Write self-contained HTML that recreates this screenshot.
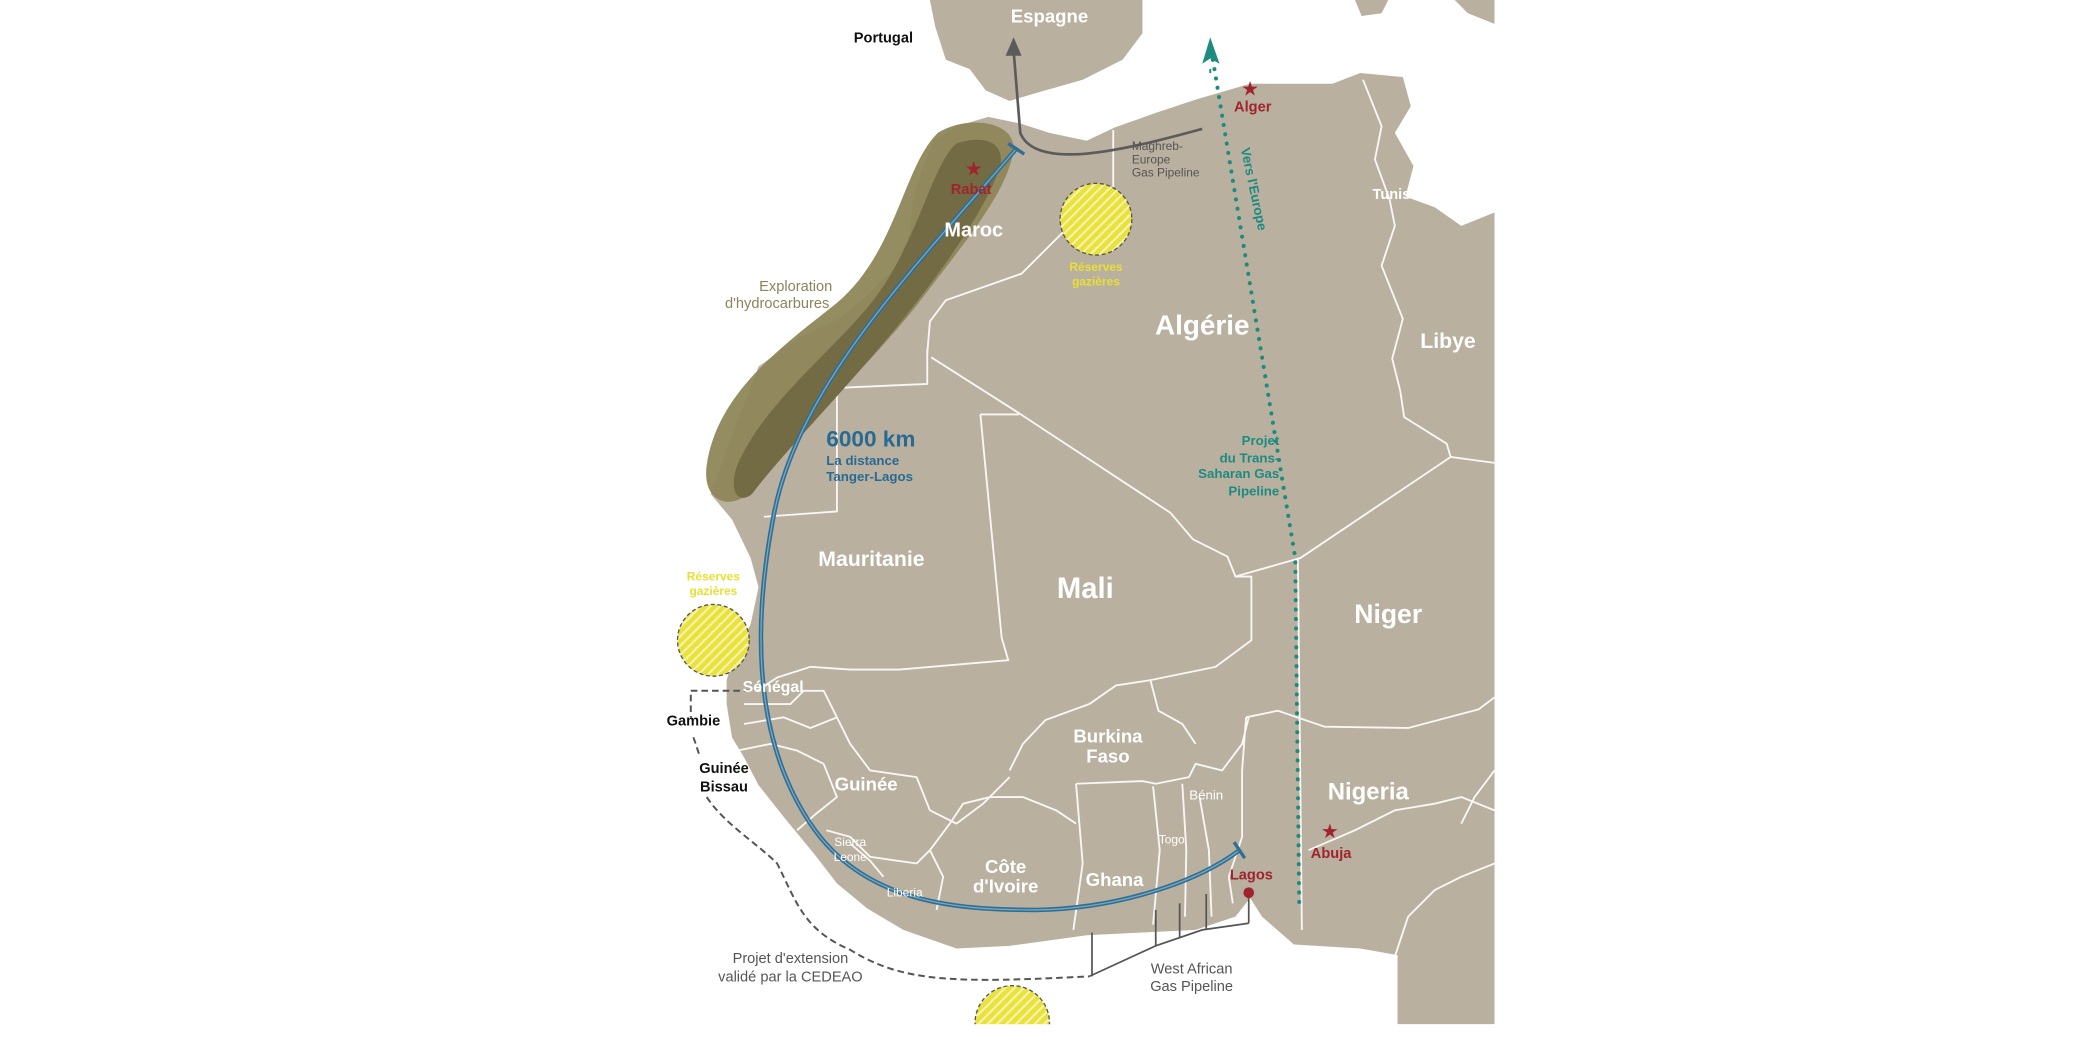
<!DOCTYPE html>
<html><head><meta charset="utf-8"><style>
html,body{margin:0;padding:0;background:#fff;}
svg{display:block;}
text{font-family:"Liberation Sans",Arial,sans-serif;}
</style></head><body>
<svg width="2083" height="1042" viewBox="0 0 1568 784.4" preserveAspectRatio="none" xmlns="http://www.w3.org/2000/svg">
<defs>
<pattern id="hatch" width="5" height="5" patternUnits="userSpaceOnUse" patternTransform="rotate(45)">
<rect width="5" height="5" fill="#e9e23a"/><rect width="1.6" height="5" fill="#f6f2b0"/>
</pattern>
<clipPath id="mapclip"><rect x="0" y="0" width="1125" height="771"/></clipPath>
</defs>
<rect width="1568" height="785" fill="#fff"/>
<g clip-path="url(#mapclip)" fill="#b9b09f">
<!-- Spain -->
<path d="M700,0 L860,0 L860,25 L845,45 L815,60 L780,70 L760,76 L742,68 L730,52 L712,45 L704,20 Z"/>
<path d="M1020,0 L1045,0 L1040,10 L1025,12 Z"/>
<path d="M1095,0 L1125,0 L1125,18 L1105,10 Z"/>
<!-- Africa -->
<path d="M744,88 L768,93 L790,100 L818,106 L839,96 L870,85 L900,75 L941,63 L1003,63 L1024,55 L1056,58 L1062,80 L1050,100 L1064,125 L1058,148 L1080,156 L1100,170 L1125,160 L1125,771 L1052,771 L1052,719 L1024,714 L974,711 L950,690 L941,676 L930,690 L900,700 L860,702 L818,704 L760,712 L720,714 L680,700 L653,684 L630,665 L613,643 L590,615 L571,591 L560,570 L551,555 L547,530 L547,512 L552,495 L565,470 L571,442 L565,420 L551,391 L535,372 L550,330 L571,276 L600,255 L633,239 L655,220 L674,201 L685,175 L687,151 L695,125 L703,106 L720,95 Z"/>
</g>
<!-- borders -->
<g fill="none" stroke="#fff" stroke-width="1.4" stroke-linejoin="round" opacity="0.9">
<polyline points="838,98 838,150 803,172 769,206 712,226 700,242 698,266"/>
<polyline points="698,263 698,289 630,292 630,385 575,389"/>
<polyline points="701,269 767,311 881,386 898,406 924,419 930,434 979,420 1092,344 1129,349"/>
<polyline points="1092,344 1089,334 1057,314 1054,294 1048,270 1056,240 1040,200 1050,170 1046,150"/>
<polyline points="1046,150 1035,120 1040,95 1026,60"/>
<polyline points="738,312 767,312"/>
<polyline points="738,312 754,480 759,497 677,504 640,504 610,502 585,510 570,520"/>
<polyline points="930,434 942,434 942,482 915,502 866,512 840,516 820,530 787,542 770,560 760,580"/>
<polyline points="866,512 872,535 890,545 900,560"/>
<polyline points="938,540 962,535 997,547 1060,548 1113,534 1125,525"/>
<polyline points="977,420 980,700"/>
<polyline points="560,545 590,540 610,548 630,540 640,560 655,580 690,585 700,610 720,620 740,605 760,585"/>
<polyline points="560,530 595,530 605,520 620,520 630,540"/>
<polyline points="555,565 580,560 600,565 620,575"/>
<polyline points="620,575 630,600 615,612 600,625"/>
<polyline points="640,635 655,648 665,660"/>
<polyline points="622,625 640,630 655,645 690,650 700,640 715,620"/>
<polyline points="700,640 710,660 705,685"/>
<polyline points="715,620 725,605 745,600 770,600 795,610 810,620"/>
<polyline points="810,590 860,588 870,590 895,585 900,575 920,580 935,560 940,540"/>
<polyline points="810,590 815,650 808,700"/>
<polyline points="868,592 873,640 868,696"/>
<polyline points="890,590 893,640 892,690"/>
<polyline points="903,600 910,640 912,690"/>
<polyline points="938,540 935,580 935,630 925,660 928,680"/>
<polyline points="985,640 1020,625 1050,610 1080,605 1100,600 1125,610"/>
<polyline points="1050,720 1060,690 1080,670 1100,660 1125,650"/>
<polyline points="1125,580 1110,600 1100,620"/>
</g>
<!-- exploration zone -->
<path d="M706,100 C730,85 770,92 762,118 C755,150 720,190 690,230 C650,280 595,330 565,370 C550,385 528,378 532,350 C540,295 590,260 630,228 C675,190 680,125 706,100 Z" fill="#8e875a" opacity="0.95"/>
<path d="M720,108 C745,100 758,110 752,128 C740,160 712,200 680,240 C640,290 590,340 566,372 C556,380 548,370 555,350 C575,305 620,270 650,235 C690,190 700,125 720,108 Z" fill="#726b44"/>
<!-- yellow reserves -->
<circle cx="825" cy="165" r="27" fill="url(#hatch)" stroke="#555" stroke-width="1" stroke-dasharray="3,2"/>
<circle cx="537" cy="482" r="27" fill="url(#hatch)" stroke="#555" stroke-width="1" stroke-dasharray="3,2"/>
<g clip-path="url(#mapclip)"><circle cx="762" cy="770" r="28" fill="url(#hatch)" stroke="#555" stroke-width="1" stroke-dasharray="3,2"/></g>
<!-- Maghreb Europe pipeline -->
<path d="M905,97 C850,112 780,130 768,100 L763,38" fill="none" stroke="#5b5b5b" stroke-width="2"/>
<path d="M757,42 L763,28 L769,42 Z" fill="#5b5b5b"/>
<!-- Trans-saharan dotted -->
<path d="M913,45 L975,420 L978,680" fill="none" stroke="#1d8b80" stroke-width="3" stroke-dasharray="0.1,7" stroke-linecap="round"/>
<path d="M905,48 L911,28 L918,48 L911,44 Z" fill="#1d8b80"/>
<line x1="911" y1="52" x2="911" y2="55" stroke="#1d8b80" stroke-width="1.5"/>
<!-- blue route -->
<path d="M765,112 C690,200 600,290 582,390 C565,480 570,560 610,620 C650,680 720,685 780,685 C840,684 900,665 933,640" fill="none" stroke="#2f6f95" stroke-width="3.4"/>
<path d="M765,112 C690,200 600,290 582,390 C565,480 570,560 610,620 C650,680 720,685 780,685 C840,684 900,665 933,640" fill="none" stroke="#7aa6be" stroke-width="1"/>
<line x1="759" y1="108" x2="771" y2="116" stroke="#2f6f95" stroke-width="2.5"/>
<line x1="929" y1="634" x2="937" y2="646" stroke="#2f6f95" stroke-width="2.5"/>
<!-- extension dashed -->
<path d="M565,520 L520,520 L520,540 M522,555 L527,570 M532,600 C545,620 570,635 585,650 C600,680 605,700 640,715 C680,740 720,740 820,735" fill="none" stroke="#555" stroke-width="1.5" stroke-dasharray="5,3"/>
<!-- West African GP -->
<g stroke="#555" stroke-width="1.3" fill="none">
<polyline points="820,735 870,712 905,700 940,695"/>
<line x1="822" y1="702" x2="822" y2="735"/>
<line x1="870" y1="685" x2="870" y2="712"/>
<line x1="888" y1="680" x2="888" y2="706"/>
<line x1="908" y1="673" x2="908" y2="700"/>
<line x1="940" y1="672" x2="940" y2="695"/>
</g>
<circle cx="940" cy="672" r="4" fill="#a0242e"/>
<!-- stars -->
<g fill="#a0242e" font-size="15">
<text x="733" y="132" text-anchor="middle">★</text>
<text x="941" y="72" text-anchor="middle">★</text>
<text x="1001" y="631" text-anchor="middle">★</text>
</g>
<!-- labels -->
<g font-weight="bold">
<text x="665" y="32" font-size="11" fill="#111" text-anchor="middle">Portugal</text>
<text x="790" y="17" font-size="14" fill="#fff" text-anchor="middle">Espagne</text>
<text x="943" y="84" font-size="11" fill="#a0242e" text-anchor="middle">Alger</text>
<text x="731" y="146" font-size="11" fill="#a0242e" text-anchor="middle">Rabat</text>
<text x="733" y="178" font-size="15" fill="#fff" text-anchor="middle">Maroc</text>
<text x="1052" y="150" font-size="11" fill="#fff" text-anchor="middle">Tunisie</text>
<text x="825" y="204" font-size="9" fill="#e8e033" text-anchor="middle">Réserves</text>
<text x="825" y="215" font-size="9" fill="#e8e033" text-anchor="middle">gazières</text>
<text x="905" y="252" font-size="21" fill="#fff" text-anchor="middle">Algérie</text>
<text x="1090" y="262" font-size="16" fill="#fff" text-anchor="middle">Libye</text>
<text x="622" y="336" font-size="17" fill="#2a6a92">6000 km</text>
<text x="622" y="350" font-size="10" fill="#2a6a92">La distance</text>
<text x="622" y="362" font-size="10" fill="#2a6a92">Tanger-Lagos</text>
<g font-size="10" fill="#1d8b80" text-anchor="end">
<text x="963" y="335">Projet</text>
<text x="963" y="348">du Trans-</text>
<text x="963" y="360">Saharan Gas</text>
<text x="963" y="373">Pipeline</text>
</g>
<text transform="translate(934,112) rotate(78)" font-size="10" fill="#1d8b80">Vers l'Europe</text>
<text x="656" y="426" font-size="16" fill="#fff" text-anchor="middle">Mauritanie</text>
<text x="817" y="450" font-size="22" fill="#fff" text-anchor="middle">Mali</text>
<text x="1045" y="469" font-size="20" fill="#fff" text-anchor="middle">Niger</text>
<text x="537" y="437" font-size="9" fill="#e8e033" text-anchor="middle">Réserves</text>
<text x="537" y="448" font-size="9" fill="#e8e033" text-anchor="middle">gazières</text>
<text x="582" y="521" font-size="12" fill="#fff" text-anchor="middle">Sénégal</text>
<text x="522" y="546" font-size="11" fill="#111" text-anchor="middle">Gambie</text>
<text x="545" y="582" font-size="11" fill="#111" text-anchor="middle">Guinée</text>
<text x="545" y="596" font-size="11" fill="#111" text-anchor="middle">Bissau</text>
<text x="652" y="595" font-size="14" fill="#fff" text-anchor="middle">Guinée</text>
<text x="834" y="559" font-size="14" fill="#fff" text-anchor="middle">Burkina</text>
<text x="834" y="574" font-size="14" fill="#fff" text-anchor="middle">Faso</text>
<text x="908" y="602" font-size="10" fill="#fff" text-anchor="middle" font-weight="normal">Bénin</text>
<text x="1030" y="602" font-size="18" fill="#fff" text-anchor="middle">Nigeria</text>
<text x="640" y="637" font-size="9" fill="#fff" text-anchor="middle" font-weight="normal">Sierra</text>
<text x="640" y="648" font-size="9" fill="#fff" text-anchor="middle" font-weight="normal">Leone</text>
<text x="882" y="635" font-size="9" fill="#fff" text-anchor="middle" font-weight="normal">Togo</text>
<text x="757" y="657" font-size="14" fill="#fff" text-anchor="middle">Côte</text>
<text x="757" y="672" font-size="14" fill="#fff" text-anchor="middle">d'Ivoire</text>
<text x="839" y="667" font-size="14" fill="#fff" text-anchor="middle">Ghana</text>
<text x="942" y="662" font-size="11" fill="#a0242e" text-anchor="middle">Lagos</text>
<text x="1002" y="646" font-size="11" fill="#a0242e" text-anchor="middle">Abuja</text>
<text x="681" y="675" font-size="9" fill="#fff" text-anchor="middle" font-weight="normal">Liberia</text>
</g>
<g font-size="11" fill="#555" text-anchor="middle">
<text x="595" y="725">Projet d'extension</text>
<text x="595" y="739">validé par la CEDEAO</text>
<text x="897" y="733">West African</text>
<text x="897" y="746">Gas Pipeline</text>
<text x="599" y="219" fill="#8b845c">Exploration</text>
<text x="585" y="232" fill="#8b845c">d'hydrocarbures</text>
<text x="852" y="113" font-size="9" text-anchor="start">Maghreb-</text>
<text x="852" y="123" font-size="9" text-anchor="start">Europe</text>
<text x="852" y="133" font-size="9" text-anchor="start">Gas Pipeline</text>
</g>
</svg>
</body></html>
